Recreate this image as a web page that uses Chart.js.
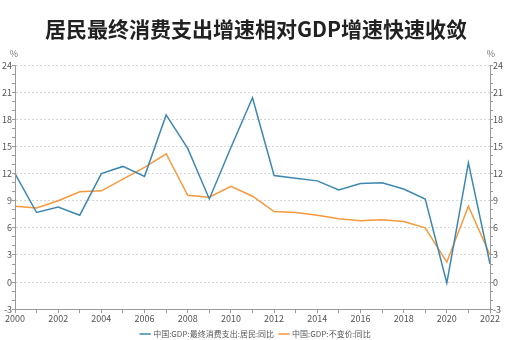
<!DOCTYPE html>
<html>
<head>
<meta charset="utf-8">
<script src="https://cdn.jsdelivr.net/npm/chart.js@4/dist/chart.umd.min.js"></script>
<style>
  html, body { margin: 0; padding: 0; background: #fff; }
  #wrap { width: 512px; height: 340px; position: relative; }
</style>
</head>
<body>
<div id="wrap"><canvas id="c"></canvas></div>
<script>
var years = ['2000','2001','2002','2003','2004','2005','2006','2007','2008','2009','2010',
             '2011','2012','2013','2014','2015','2016','2017','2018','2019','2020','2021','2022'];
var consumption = [12.0, 7.7, 8.3, 7.4, 12.0, 12.8, 11.7, 18.5, 14.8, 9.2, 14.9,
                   20.4, 11.8, 11.5, 11.2, 10.2, 10.9, 11.0, 10.3, 9.2, -0.1, 13.2, 2.0];
var gdp = [8.4, 8.2, 9.0, 10.0, 10.1, 11.4, 12.7, 14.2, 9.6, 9.4, 10.6,
           9.5, 7.8, 7.7, 7.4, 7.0, 6.8, 6.9, 6.7, 6.0, 2.2, 8.4, 3.0];
var seriesNames = ['中国:GDP:最终消费支出:居民:同比', '中国:GDP:不变价:同比'];
var titleText = '居民最终消费支出增速相对GDP增速快速收敛';

var FONT = '"Noto Sans CJK SC", "Noto Sans", sans-serif';
var axisGrey = '#9a9a9a';

var unitLabels = {
    id: 'unitLabels',
    afterDraw: function(chart) {
        var ctx = chart.ctx;
        var y = chart.scales.y, y2 = chart.scales.y2;
        ctx.save();
        ctx.font = '9px ' + FONT;
        ctx.fillStyle = '#777';
        ctx.textAlign = 'center';
        ctx.fillText('%', y.right - 1, y.top - 12);
        ctx.fillText('%', y2.left + 1, y2.top - 12);
        // solid axis lines (grid dash also hits the border)
        ctx.strokeStyle = axisGrey;
        ctx.lineWidth = 1;
        ctx.beginPath();
        ctx.moveTo(Math.round(y.right) + 0.5, y.top);
        ctx.lineTo(Math.round(y.right) + 0.5, y.bottom);
        ctx.moveTo(Math.round(y2.left) + 0.5, y2.top);
        ctx.lineTo(Math.round(y2.left) + 0.5, y2.bottom);
        ctx.stroke();
        ctx.restore();
    }
};

function yAxis(pos) {
    return {
        position: pos,
        min: -3,
        max: 24,
        afterFit: function(s) { s.width = pos === 'left' ? 15 : 22; },
        border: { color: axisGrey, width: 1, dash: pos === 'left' ? [2, 2] : [] },
        grid: {
            drawOnChartArea: pos === 'left',
            color: function(c) { return c.tick && c.tick.value % 3 === 0 ? '#d6d6d6' : 'rgba(0,0,0,0)'; },
            tickColor: axisGrey,
            tickLength: 3
        },
        ticks: {
            stepSize: 1,
            padding: 0,
            autoSkip: false,
            font: { size: 9, family: FONT },
            color: '#555',
            callback: function(v) { return v % 3 === 0 ? v : ''; }
        }
    };
}

new Chart(document.getElementById('c').getContext('2d'), {
    type: 'line',
    data: {
        labels: years,
        datasets: [
            {
                label: seriesNames[0],
                data: consumption,
                borderColor: '#3d88b1',
                backgroundColor: '#3d88b1',
                borderWidth: 1.5,
                pointRadius: 0,
                tension: 0
            },
            {
                label: seriesNames[1],
                data: gdp,
                borderColor: '#f7993b',
                backgroundColor: '#f7993b',
                borderWidth: 1.5,
                pointRadius: 0,
                tension: 0
            }
        ]
    },
    options: {
        responsive: true,
        maintainAspectRatio: false,
        animation: false,
        layout: { padding: { left: 0, right: 0, top: 0, bottom: 0 } },
        scales: {
            x: {
                offset: false,
                border: { color: axisGrey, width: 1 },
                grid: { drawOnChartArea: false, tickColor: axisGrey, tickLength: 4 },
                ticks: {
                    autoSkip: false,
                    maxRotation: 0,
                    padding: 0,
                    font: { size: 9, family: FONT },
                    color: '#555',
                    callback: function(v, i) { return i % 2 === 0 ? years[i] : ''; }
                }
            },
            y: yAxis('left'),
            y2: yAxis('right')
        },
        plugins: {
            title: {
                display: true,
                text: titleText,
                font: { size: 21, weight: 'bold', family: FONT },
                color: '#222',
                padding: { top: 16, bottom: 24 }
            },
            legend: {
                position: 'bottom',
                maxHeight: 16,
                labels: {
                    usePointStyle: true,
                    pointStyle: 'line',
                    boxWidth: 14,
                    font: { size: 8, family: FONT },
                    color: '#555',
                    padding: 6
                }
            },
            tooltip: { enabled: false }
        }
    },
    plugins: [unitLabels]
});
</script>
</body>
</html>
